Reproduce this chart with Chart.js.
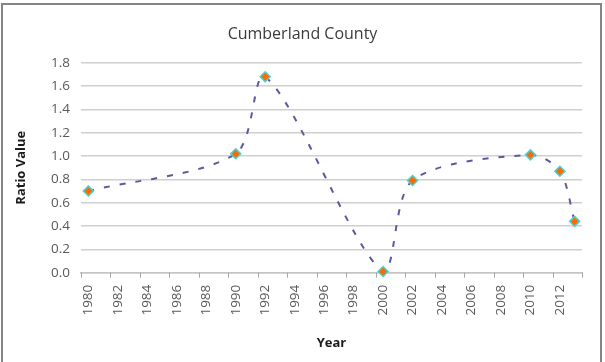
<!DOCTYPE html>
<html>
<head>
<meta charset="utf-8">
<title>Cumberland County</title>
<script src="https://cdn.jsdelivr.net/npm/chart.js@4/dist/chart.umd.min.js"></script>
<style>
  html, body { margin: 0; padding: 0; background: #ffffff; }
  #wrap { position: relative; width: 605px; height: 362px; overflow: hidden; }
  #wrap canvas { position: absolute; left: 0; top: 0; }
  #frame {
    position: absolute; left: 1px; top: 3px; width: 601px; height: 420px;
    box-sizing: border-box; border: 2px solid #858585; pointer-events: none;
  }
</style>
</head>
<body>
<div id="wrap">
  <canvas id="chart" width="605" height="362"></canvas>
  <div id="frame"></div>
</div>
<script>
// Ratio values by survey year
const years = [1980, 1990, 1992, 2000, 2002, 2010, 2012, 2013];
const ratioValues = [0.70, 1.02, 1.68, 0.01, 0.79, 1.01, 0.87, 0.44];

// Year labels along the bottom axis and value labels on the left axis
const yearTicks = [1980, 1982, 1984, 1986, 1988, 1990, 1992, 1994, 1996, 1998,
                   2000, 2002, 2004, 2006, 2008, 2010, 2012];
const valueTicks = [0, 0.2, 0.4, 0.6, 0.8, 1.0, 1.2, 1.4, 1.6, 1.8];

// Each year occupies one slot; tick marks sit on slot boundaries every two years
const yearMin = 1979.5;
const yearMax = 2013.5;

const tickFont = { family: "'Open Sans', 'Liberation Sans', sans-serif", size: 13.5 };
const axisTitleFont = { family: "'Open Sans', 'Liberation Sans', sans-serif", size: 13, weight: 'bold', lineHeight: 1.2 };

// Short tick marks below the year axis, between the labels
const boundaryTicks = {
  id: 'boundaryTicks',
  afterDraw(chart) {
    const x = chart.scales.x;
    const ctx = chart.ctx;
    ctx.save();
    ctx.strokeStyle = '#a6a6a6';
    ctx.lineWidth = 1;
    ctx.beginPath();
    for (let v = yearMin; v <= yearMax + 0.001; v += 2) {
      const px = Math.round(x.getPixelForValue(v)) + 0.5;
      ctx.moveTo(px, x.top);
      ctx.lineTo(px, x.top + 5);
    }
    ctx.stroke();
    ctx.restore();
  }
};

new Chart(document.getElementById('chart'), {
  type: 'line',
  data: {
    datasets: [{
      label: 'Ratio Value',
      data: years.map((y, i) => ({ x: y, y: ratioValues[i] })),
      borderColor: '#5a5a9e',
      borderWidth: 2,
      borderDash: [6, 10],
      tension: 0.3,
      pointStyle: 'rectRot',
      pointRadius: 5,
      pointBackgroundColor: '#ff6a00',
      pointBorderColor: '#48d1d1',
      pointBorderWidth: 1.5,
      clip: false
    }]
  },
  options: {
    responsive: false,
    animation: false,
    events: [],
    layout: { padding: { left: 23, right: 23, top: 0, bottom: 0 } },
    plugins: {
      legend: { display: false },
      tooltip: { enabled: false },
      title: {
        display: true,
        text: 'Cumberland County',
        color: '#3b3b3b',
        font: { family: "'Open Sans', 'Liberation Sans', sans-serif", size: 16, weight: 'normal', lineHeight: 1.2 },
        padding: { top: 24.5, bottom: 19 }
      }
    },
    scales: {
      x: {
        type: 'linear',
        min: yearMin,
        max: yearMax,
        afterBuildTicks(scale) { scale.ticks = yearTicks.map(v => ({ value: v })); },
        afterFit(scale) { scale.height = 89.3; },
        ticks: {
          autoSkip: false,
          minRotation: 90,
          maxRotation: 90,
          padding: 12,
          color: '#595959',
          font: tickFont,
          callback: v => String(v)
        },
        grid: { display: false, drawTicks: false },
        border: { display: true, color: '#c4c4c4', width: 1.5 },
        title: {
          display: true,
          text: 'Year',
          color: '#1a1a1a',
          font: axisTitleFont,
          padding: { top: 0, bottom: 11 }
        }
      },
      y: {
        min: 0,
        max: 1.8,
        afterBuildTicks(scale) { scale.ticks = valueTicks.map(v => ({ value: v })); },
        afterFit(scale) { scale.width = 58; },
        ticks: {
          padding: 11,
          color: '#595959',
          font: tickFont,
          callback: v => Number(v).toFixed(1)
        },
        grid: { color: '#cfcfcf', lineWidth: 1.5, drawTicks: false },
        border: { display: false },
        title: {
          display: true,
          text: 'Ratio Value',
          color: '#1a1a1a',
          font: axisTitleFont,
          padding: { top: -9.3, bottom: 0 }
        }
      }
    }
  },
  plugins: [boundaryTicks]
});
</script>
</body>
</html>
